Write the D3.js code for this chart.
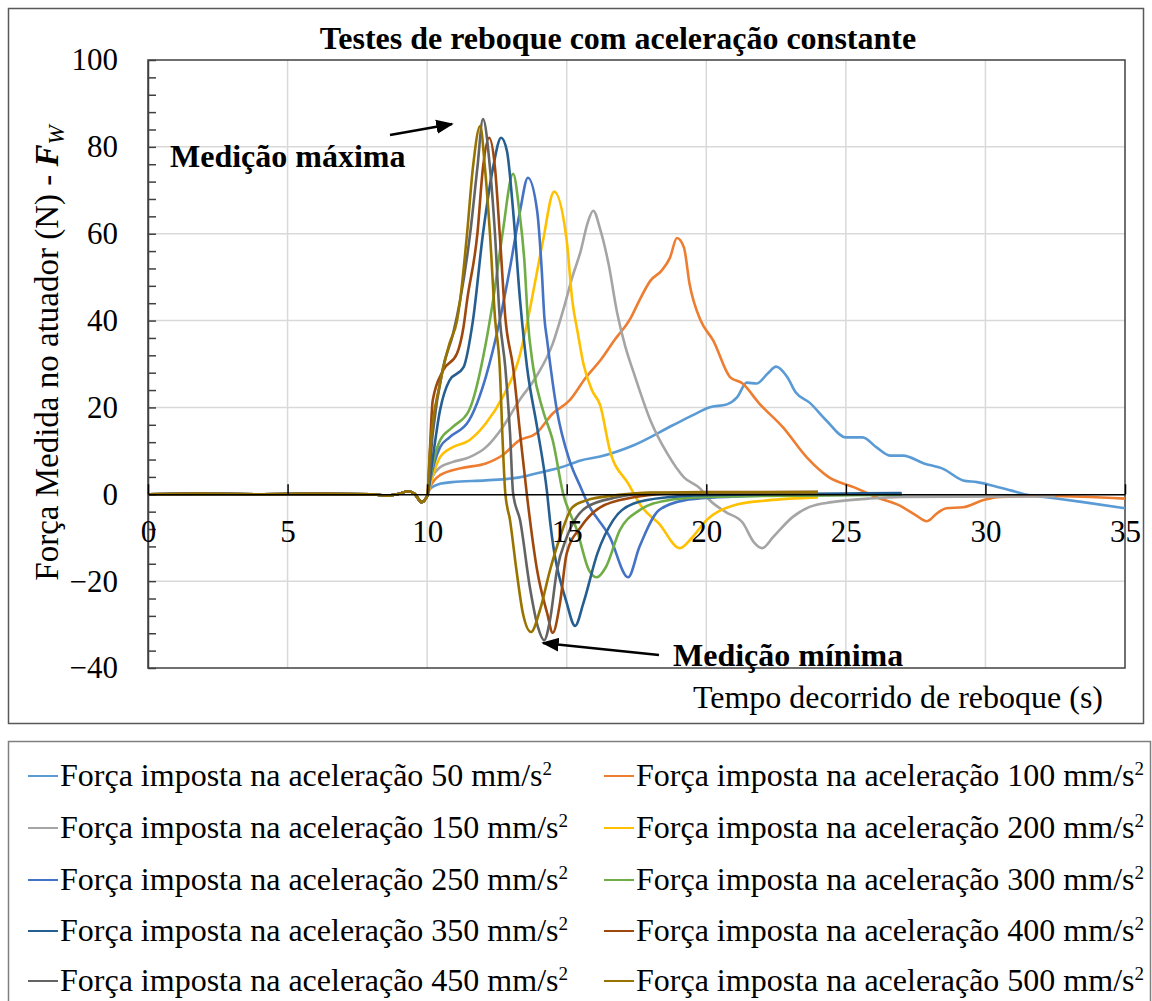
<!DOCTYPE html>
<html>
<head>
<meta charset="utf-8">
<script src="https://cdn.jsdelivr.net/npm/d3@7"></script>
<style>
  body { margin: 0; background: #fff; }
  svg { display: block; }
  text { font-family: "Liberation Serif", "Times New Roman", serif; fill: #000; }
</style>
</head>
<body>
<svg id="chart" width="1152" height="1001"></svg>
<script>
// Imposed accelerations (mm/s²), one towing test each
const accelerations = [50, 100, 150, 200, 250, 300, 350, 400, 450, 500];

// Idle period before towing starts, shared by all tests: [time (s), force (N)]
const idleSegment = [[0, 0], [2, 0.1], [4, 0], [6, 0.1], [8, 0], [8.6, -0.3], [9.0, 0.1],
  [9.3, 0.7], [9.55, 0.1], [9.8, -1.8], [10.0, -0.4]];

// Measured force after towing starts: [time (s), force (N)]
const force50 = [[10.1, 1.2], [10.45, 2.4], [10.9, 2.8], [12.1, 3.2], [13.3, 3.9], [13.9, 4.8],
  [14.8, 6.2], [15.5, 7.8], [16.2, 8.7], [17.4, 11.3], [18.8, 15.9], [19.7, 18.8], [20.1, 20],
  [20.74, 20.7], [21.1, 22.3], [21.45, 25.7], [21.8, 25.5], [22.2, 27.8], [22.5, 29.4], [22.9, 27],
  [23.2, 23.5], [23.7, 21.1], [24.3, 17], [25.0, 13.1], [25.6, 13.1], [26.1, 10.8], [26.6, 8.9],
  [27.05, 8.9], [27.8, 7.1], [28.5, 5.8], [29.2, 3.2], [29.7, 2.8], [30.2, 2.1], [30.9, 0.9],
  [31.4, 0], [32.1, -0.6], [33.5, -1.8], [35, -3.2]];
const force100 = [[10.1, 1.5], [10.46, 4.4], [11.2, 6], [12.1, 7.1], [12.7, 9], [13.3, 12.4],
  [13.9, 14], [14.5, 18.6], [15.1, 21.6], [15.7, 27], [16.2, 30.8], [16.7, 35.4], [17.3, 40.7],
  [17.6, 44.6], [18.0, 49.2], [18.4, 51.5], [18.7, 54.5], [18.95, 59], [19.2, 56.8], [19.4, 48.5],
  [19.8, 40], [20.25, 35.4], [20.85, 27], [21.3, 25.5], [21.9, 20.9], [22.75, 15.4], [23.6, 8.5],
  [24.4, 3.9], [25.3, 1.6], [26.1, -0.7], [26.9, -2.5], [27.5, -4.8], [27.9, -6.2], [28.3, -4.2],
  [28.6, -3.2], [29.2, -3], [29.9, -1.4], [30.5, -0.6], [32.3, -0.4], [35, -1]];
const force150 = [[10.1, 2.5], [10.46, 6.2], [10.9, 7.4], [11.5, 8.5], [12.1, 10.8], [12.7, 15.4],
  [13.3, 21.6], [13.9, 27], [14.5, 34.7], [14.9, 43], [15.2, 50], [15.5, 56], [15.75, 62.5],
  [15.95, 65.3], [16.2, 61], [16.5, 53], [16.8, 42], [17.1, 34], [17.4, 28], [18.0, 17],
  [18.6, 9.4], [19.2, 3.9], [19.8, 1.2], [20.1, -1.2], [20.7, -4.1], [21.3, -6.5], [21.7, -11],
  [22.0, -12.4], [22.4, -9.8], [23.1, -5.2], [23.7, -2.9], [24.5, -1.8], [25.8, -1], [27, -0.6],
  [32.5, -0.5]];
const force200 = [[10.1, 2], [10.46, 8.5], [10.9, 10.8], [11.5, 12.4], [12.1, 16.3], [12.7, 22.3],
  [13.3, 31.5], [13.6, 40], [13.9, 50], [14.15, 58.4], [14.55, 69.7], [15.0, 58.4], [15.2, 44.6],
  [15.4, 37], [15.6, 30], [15.9, 24], [16.2, 20.5], [16.55, 10], [17.2, 2.5], [17.7, -3],
  [18.3, -6.7], [19.05, -12.4], [19.5, -9.9], [20.0, -6], [21.0, -2.5], [22.2, -1.4], [24, -0.7]];
const force250 = [[10.1, 3], [10.46, 10.8], [10.8, 13.1], [11.5, 17], [12.1, 27], [12.6, 40],
  [12.97, 52.2], [13.33, 65.3], [13.61, 72.9], [13.94, 65.3], [14.1, 52.2], [14.2, 40.7],
  [14.3, 35.4], [14.65, 19.3], [15.1, 7.8], [15.5, 1.6], [15.7, -1.4], [16.55, -9.9],
  [17.2, -19.1], [17.6, -12.2], [18.3, -3.7], [19.2, -1.4], [20.4, -0.7], [22, -0.3], [27, 0]];
const force300 = [[10.1, 3.5], [10.46, 12.4], [10.9, 15.4], [11.5, 19.3], [12.1, 34.7],
  [12.36, 44.6], [12.7, 60], [13.08, 73.8], [13.3, 65.3], [13.5, 52.2], [13.6, 40.7], [13.8, 29.2],
  [14.15, 19.3], [14.5, 12.4], [14.87, 0.2], [15.37, -8.3], [15.8, -17.5], [16.08, -19.1],
  [16.4, -16.8], [16.9, -8.3], [17.6, -3.7], [18.6, -1.4], [19.8, -0.7], [22, -0.4], [27, -0.1]];
const force350 = [[10.15, 6], [10.46, 19.3], [10.8, 26.2], [11.3, 29.2], [11.64, 40], [12.0, 60],
  [12.36, 75.2], [12.65, 82.1], [12.86, 79], [13.08, 65.3], [13.33, 44.6], [13.58, 29.2],
  [13.94, 15.4], [14.3, 0.2], [14.4, -6], [15.0, -25], [15.3, -30.3], [15.6, -25], [16.1, -13.6],
  [16.66, -6], [17.4, -2.1], [18.6, -0.7], [20, -0.2], [27, 0.3]];
const force400 = [[10.2, 21.6], [10.57, 28.5], [11.07, 32.4], [11.3, 38.4], [11.43, 44.6],
  [11.8, 60], [12.0, 75.2], [12.22, 82.1], [12.43, 75.2], [12.6, 60], [12.8, 40.7], [13.08, 29.2],
  [13.33, 14], [13.58, -0.5], [13.94, -17.5], [14.3, -27.4], [14.5, -31.9], [14.76, -25],
  [15.0, -13.6], [15.5, -7.6], [16.2, -3], [17.4, -0.7], [18.6, 0.2], [20, 0.5], [24, 0.5]];
const force450 = [[10.2, 14], [10.57, 29.2], [10.93, 37], [11.18, 44.6], [11.54, 60], [11.8, 75.2],
  [12.0, 86.4], [12.25, 75.2], [12.43, 60], [12.6, 40.7], [12.8, 29.2], [12.97, 14], [13.08, 0.2],
  [13.33, -6], [13.68, -21.4], [13.97, -30.6], [14.19, -33.6], [14.4, -29], [14.65, -17.5],
  [15.0, -9.9], [15.7, -3], [16.8, -0.7], [18, 0.3], [24, 0.5]];
const force500 = [[10.1, 10], [10.46, 25.5], [10.8, 34.7], [11.07, 40], [11.18, 44.6], [11.43, 60],
  [11.64, 75.2], [11.9, 84.8], [12.07, 75.2], [12.25, 60], [12.43, 40.7], [12.6, 29.2], [12.72, 10],
  [12.8, 0.2], [12.97, -6], [13.2, -17.5], [13.43, -27.4], [13.72, -31.7], [14.04, -26.7],
  [14.4, -17.5], [14.76, -9.9], [15.2, -3], [15.7, -1.4], [16.8, -0.2], [18, 0.4], [24, 0.5]];

const forceSeries = [force50, force100, force150, force200, force250,
  force300, force350, force400, force450, force500];

const seriesColors = ["#5B9BD5", "#ED7D31", "#A5A5A5", "#FFC000", "#4472C4",
  "#70AD47", "#255E91", "#9E480E", "#636363", "#997300"];

const xTicks = [0, 5, 10, 15, 20, 25, 30, 35];
const yTicks = [-40, -20, 0, 20, 40, 60, 80, 100];

const svg = d3.select("#chart");
const x = d3.scaleLinear().domain([0, 35]).range([148, 1125]);
const y = d3.scaleLinear().domain([-40, 100]).range([668, 60]);

// Outer frame of the chart and frame of the legend
svg.append("rect").attr("x", 8.5).attr("y", 8.5).attr("width", 1135).attr("height", 715)
  .attr("fill", "none").attr("stroke", "#595959").attr("stroke-width", 1.5);
svg.append("rect").attr("x", 8.5).attr("y", 741.5).attr("width", 1142).attr("height", 280)
  .attr("fill", "none").attr("stroke", "#7f7f7f").attr("stroke-width", 1.5);

// Gridlines
const grid = svg.append("g");
grid.selectAll(".vg").data(xTicks.filter(d => d > 0 && d < 35)).join("line")
  .attr("x1", d => x(d)).attr("x2", d => x(d)).attr("y1", y(100)).attr("y2", y(-40))
  .attr("stroke", "#d9d9d9").attr("stroke-width", 1.5);
grid.selectAll(".hg").data(yTicks.filter(d => d > -40 && d < 100 && d !== 0)).join("line")
  .attr("x1", x(0)).attr("x2", x(35)).attr("y1", d => y(d)).attr("y2", d => y(d))
  .attr("stroke", "#d9d9d9").attr("stroke-width", 1.5);

// Plot area border
svg.append("rect").attr("x", x(0)).attr("y", y(100)).attr("width", x(35) - x(0))
  .attr("height", y(-40) - y(100)).attr("fill", "none").attr("stroke", "#404040").attr("stroke-width", 1.5);

// Force curves
const line = d3.line().x(d => x(d[0])).y(d => y(d[1])).curve(d3.curveMonotoneX);
svg.append("g").selectAll("path").data(forceSeries).join("path")
  .attr("d", d => line(idleSegment.concat(d)))
  .attr("fill", "none")
  .attr("stroke", (d, i) => seriesColors[i])
  .attr("stroke-width", 2.6)
  .attr("stroke-linejoin", "round");

// Y axis: minor ticks every 4 N pointing inwards, labels every 20 N
const yMinor = d3.range(-40, 100.1, 4);
svg.append("g").attr("transform", `translate(${x(0)},0)`)
  .call(d3.axisRight(y).tickValues(yMinor).tickSize(8).tickSizeOuter(0).tickFormat(""))
  .call(g => g.selectAll("line,path").attr("stroke", "#404040").attr("stroke-width", 1.5));
svg.append("g").attr("transform", `translate(${x(0)},0)`)
  .call(d3.axisLeft(y).tickValues(yTicks).tickSize(0).tickPadding(30))
  .call(g => g.select(".domain").remove())
  .call(g => g.selectAll("text").style("font-size", "31px").attr("fill", "#000"));

// X axis drawn along zero force
svg.append("g").attr("transform", `translate(0,${y(0)})`)
  .call(d3.axisTop(x).tickValues(xTicks).tickSize(10).tickSizeOuter(0).tickFormat(""))
  .call(g => g.selectAll("line,path").attr("stroke", "#000").attr("stroke-width", 1.5));
svg.append("g").attr("transform", `translate(0,${y(0)})`)
  .call(d3.axisBottom(x).tickValues(xTicks).tickSize(0).tickPadding(26))
  .call(g => g.select(".domain").remove())
  .call(g => g.selectAll("text").style("font-size", "31px").attr("fill", "#000"));

// Title
svg.append("text").attr("x", 618).attr("y", 49).attr("text-anchor", "middle")
  .style("font-size", "32px").style("font-weight", "bold")
  .text("Testes de reboque com aceleração constante");

// Axis titles
const yLabel = svg.append("text").attr("transform", "translate(58,353) rotate(-90)")
  .attr("text-anchor", "middle").style("font-size", "33px");
yLabel.append("tspan").text("Força Medida no atuador (N) - ");
yLabel.append("tspan").style("font-weight", "bold").style("font-style", "italic").text("F");
yLabel.append("tspan").style("font-style", "italic").style("font-size", "23px").attr("dy", 6).text("W");

svg.append("text").attr("x", 1103).attr("y", 708).attr("text-anchor", "end")
  .style("font-size", "32px").text("Tempo decorrido de reboque (s)");

// Annotations for maximum and minimum measurements
const defs = svg.append("defs");
defs.append("marker").attr("id", "arrowHead").attr("viewBox", "0 0 10 10")
  .attr("refX", 9).attr("refY", 5).attr("markerWidth", 7).attr("markerHeight", 7)
  .attr("markerUnits", "strokeWidth").attr("orient", "auto")
  .append("path").attr("d", "M0,1 L10,5 L0,9 Z").attr("fill", "#000");

svg.append("text").attr("x", 170).attr("y", 167).style("font-size", "32px")
  .style("font-weight", "bold").text("Medição máxima");
svg.append("line").attr("x1", 390).attr("y1", 135).attr("x2", 452).attr("y2", 124)
  .attr("stroke", "#000").attr("stroke-width", 2.5).attr("marker-end", "url(#arrowHead)");

svg.append("text").attr("x", 673).attr("y", 666).style("font-size", "32px")
  .style("font-weight", "bold").text("Medição mínima");
svg.append("line").attr("x1", 659).attr("y1", 655).attr("x2", 543).attr("y2", 643)
  .attr("stroke", "#000").attr("stroke-width", 2.5).attr("marker-end", "url(#arrowHead)");

// Legend: two columns, five rows
const legend = svg.append("g");
const rowY = [776, 828, 880, 931, 981];
const colX = [28, 604];
accelerations.forEach((a, i) => {
  const cx = colX[i % 2];
  const cy = rowY[Math.floor(i / 2)];
  legend.append("line").attr("x1", cx).attr("x2", cx + 30).attr("y1", cy).attr("y2", cy)
    .attr("stroke", seriesColors[i]).attr("stroke-width", 2);
  const t = legend.append("text").attr("x", cx + 32).attr("y", cy + 10).style("font-size", "32px");
  t.append("tspan").text(`Força imposta na aceleração ${a} mm/s`);
  t.append("tspan").style("font-size", "19px").attr("dy", -11).text("2");
});
</script>
</body>
</html>
